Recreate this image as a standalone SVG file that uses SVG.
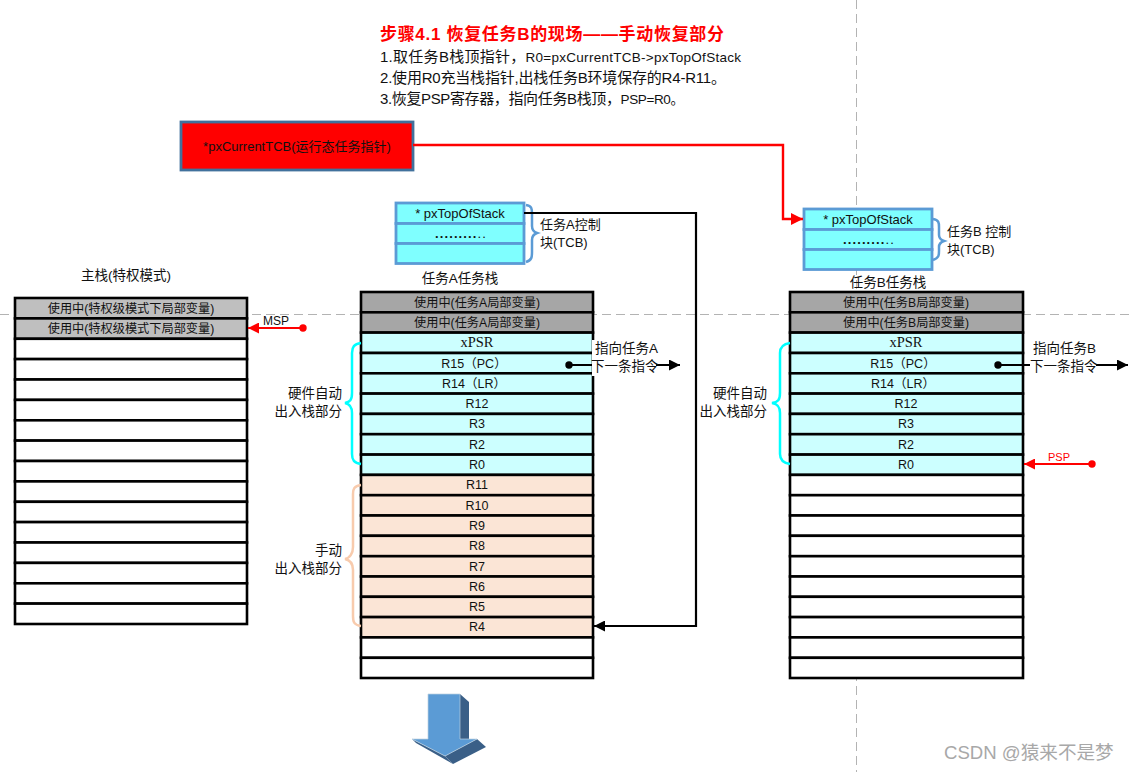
<svg xmlns="http://www.w3.org/2000/svg" width="1130" height="772" viewBox="0 0 1130 772">
<style>
text{font-family:"Liberation Sans","Noto Sans CJK SC",sans-serif;fill:#111;font-size:12px}
.m{text-anchor:middle}
.e{text-anchor:end}
.r{fill:#fff;stroke:#000;stroke-width:2.6}
.g{fill:#a6a6a6;stroke:#000;stroke-width:2.6}
.lg{fill:#bfbfbf;stroke:#000;stroke-width:2.6}
.c{fill:#ccffff;stroke:#000;stroke-width:2.6}
.o{fill:#fbe5d6;stroke:#000;stroke-width:2.6}
.t{fill:#7fffff;stroke:#5b9bd5;stroke-width:2.8}
.u{font-size:12.2px}
.s{font-size:12.5px}
.x{font-family:"Liberation Serif",serif;font-size:14.5px}
.info{font-size:15px}
.lat{font-size:13.5px}
.lab{font-size:13.5px}
.dots{font-weight:bold;font-size:13px;letter-spacing:1.1px}
.dash{stroke:#b3b3b3;stroke-width:1;stroke-dasharray:9 5;fill:none}
.brace{fill:none;stroke-width:2.5}
</style>
<defs>
<marker id="ar" markerWidth="5" markerHeight="5" refX="5" refY="2.5" orient="auto" markerUnits="strokeWidth"><path d="M0 0L5 2.5L0 5z" fill="#f00"/></marker>
<marker id="ak" markerWidth="5" markerHeight="5" refX="5" refY="2.5" orient="auto" markerUnits="strokeWidth"><path d="M0 0L5 2.5L0 5z" fill="#000"/></marker>
</defs>
<rect width="1130" height="772" fill="#fff"/>
<g id="guides">
<path class="dash" d="M0 314.5H1130"/>
<path class="dash" d="M856.5 0V772"/>
</g>
<g id="title">
<text x="380" y="40" textLength="344" style="font-size:17px;font-weight:bold;fill:#f00">步骤4.1 恢复任务B的现场——手动恢复部分</text>
<text class="info" x="380" y="62" textLength="361">1.取任务B栈顶指针，<tspan class="lat">R0=pxCurrentTCB-&gt;pxTopOfStack</tspan></text>
<text class="info" x="380" y="83" textLength="346">2.使用R0充当栈指针,出栈任务B环境保存的R4-R11。</text>
<text class="info" x="380" y="104" textLength="304">3.恢复PSP寄存器，指向任务B栈顶，<tspan class="lat">PSP=R0。</tspan></text>
</g>
<g id="pxCurrentTCB">
<rect x="181" y="122" width="232" height="48" fill="#f00" stroke="#41719c" stroke-width="2.8"/>
<text class="m" x="297" y="151" style="font-size:13px">*pxCurrentTCB(运行态任务指针)</text>
</g>
<g id="tcbA">
<rect class="t" x="396" y="203" width="128" height="20.5"/>
<rect class="t" x="396" y="223.5" width="128" height="20"/>
<rect class="t" x="396" y="243.5" width="128" height="20"/>
<text class="m" x="460" y="218" style="font-size:13px">* pxTopOfStack</text>
<text class="m dots" x="461" y="238">.........<tspan font-weight="normal">..</tspan></text>
<path class="brace" stroke="#5b9bd5" d="M526 205C532 206 532 209 532 214V226C532 230 534 232 537 233C534 234 532 236 532 240V252C532 257 532 260 526 262"/>
<text x="540" y="229" style="font-size:13px">任务A控制</text>
<text x="540" y="247" style="font-size:13px">块(TCB)</text>
<text class="m lab" x="460" y="283">任务A任务栈</text>
</g>
<g id="tcbB">
<rect class="t" x="804" y="209" width="128" height="20.5"/>
<rect class="t" x="804" y="229.5" width="128" height="20"/>
<rect class="t" x="804" y="249.5" width="128" height="20"/>
<text class="m" x="868" y="224" style="font-size:13px">* pxTopOfStack</text>
<text class="m dots" x="869" y="244">.........<tspan font-weight="normal">..</tspan></text>
<path class="brace" stroke="#5b9bd5" d="M933 219C939 220 939 223 939 227V235C939 238 941 240 944 241C941 242 939 244 939 247V251C939 255 939 258 933 260"/>
<text x="947" y="236" style="font-size:13px">任务B 控制</text>
<text x="947" y="254" style="font-size:13px">块(TCB)</text>
<text class="m lab" x="888" y="287">任务B任务栈</text>
</g>
<g id="mainStack">
<text class="m lab" x="126" y="280">主栈(特权模式)</text>
<rect class="lg" x="15" y="298" width="232" height="20.4"/>
<rect class="lg" x="15" y="318.4" width="232" height="20.4"/>
<rect class="r" x="15" y="338.8" width="232" height="20.3"/>
<rect class="r" x="15" y="359.1" width="232" height="20.4"/>
<rect class="r" x="15" y="379.5" width="232" height="20.4"/>
<rect class="r" x="15" y="399.9" width="232" height="20.4"/>
<rect class="r" x="15" y="420.3" width="232" height="20.3"/>
<rect class="r" x="15" y="440.6" width="232" height="20.4"/>
<rect class="r" x="15" y="461" width="232" height="20.4"/>
<rect class="r" x="15" y="481.4" width="232" height="20.4"/>
<rect class="r" x="15" y="501.8" width="232" height="20.3"/>
<rect class="r" x="15" y="522.1" width="232" height="20.4"/>
<rect class="r" x="15" y="542.5" width="232" height="20.4"/>
<rect class="r" x="15" y="562.9" width="232" height="20.4"/>
<rect class="r" x="15" y="583.3" width="232" height="20.3"/>
<rect class="r" x="15" y="603.6" width="232" height="20.4"/>
<text class="m u" x="131" y="312.5">使用中(特权级模式下局部变量)</text>
<text class="m u" x="131" y="333">使用中(特权级模式下局部变量)</text>
</g>
<g id="stackA">
<rect class="g" x="361" y="292" width="232" height="20.3"/>
<rect class="g" x="361" y="312.3" width="232" height="20.3"/>
<rect class="c" x="361" y="332.6" width="232" height="20.4"/>
<rect class="c" x="361" y="353" width="232" height="20.3"/>
<rect class="c" x="361" y="373.3" width="232" height="20.3"/>
<rect class="c" x="361" y="393.6" width="232" height="20.3"/>
<rect class="c" x="361" y="413.9" width="232" height="20.3"/>
<rect class="c" x="361" y="434.2" width="232" height="20.4"/>
<rect class="c" x="361" y="454.6" width="232" height="20.3"/>
<rect class="o" x="361" y="474.9" width="232" height="20.3"/>
<rect class="o" x="361" y="495.2" width="232" height="20.3"/>
<rect class="o" x="361" y="515.5" width="232" height="20.3"/>
<rect class="o" x="361" y="535.8" width="232" height="20.4"/>
<rect class="o" x="361" y="556.2" width="232" height="20.3"/>
<rect class="o" x="361" y="576.5" width="232" height="20.3"/>
<rect class="o" x="361" y="596.8" width="232" height="20.3"/>
<rect class="o" x="361" y="617.1" width="232" height="20.3"/>
<rect class="r" x="361" y="637.4" width="232" height="20.4"/>
<rect class="r" x="361" y="657.8" width="232" height="20.2"/>
<text class="m u" x="477" y="307">使用中(任务A局部变量)</text>
<text class="m u" x="477" y="327">使用中(任务A局部变量)</text>
<text class="m x" x="477" y="347">xPSR</text>
<text class="m s" x="474" y="368">R15（PC）</text>
<text class="m s" x="474" y="388">R14（LR）</text>
<text class="m s" x="477" y="408">R12</text>
<text class="m s" x="477" y="428">R3</text>
<text class="m s" x="477" y="449">R2</text>
<text class="m s" x="477" y="469">R0</text>
<text class="m s" x="477" y="489">R11</text>
<text class="m s" x="477" y="510">R10</text>
<text class="m s" x="477" y="530">R9</text>
<text class="m s" x="477" y="550">R8</text>
<text class="m s" x="477" y="571">R7</text>
<text class="m s" x="477" y="591">R6</text>
<text class="m s" x="477" y="611">R5</text>
<text class="m s" x="477" y="631">R4</text>
</g>
<g id="stackB">
<rect class="g" x="790" y="292" width="233" height="20.3"/>
<rect class="g" x="790" y="312.3" width="233" height="20.3"/>
<rect class="c" x="790" y="332.6" width="233" height="20.4"/>
<rect class="c" x="790" y="353" width="233" height="20.3"/>
<rect class="c" x="790" y="373.3" width="233" height="20.3"/>
<rect class="c" x="790" y="393.6" width="233" height="20.3"/>
<rect class="c" x="790" y="413.9" width="233" height="20.3"/>
<rect class="c" x="790" y="434.2" width="233" height="20.4"/>
<rect class="c" x="790" y="454.6" width="233" height="20.3"/>
<rect class="r" x="790" y="474.9" width="233" height="20.3"/>
<rect class="r" x="790" y="495.2" width="233" height="20.3"/>
<rect class="r" x="790" y="515.5" width="233" height="20.3"/>
<rect class="r" x="790" y="535.8" width="233" height="20.4"/>
<rect class="r" x="790" y="556.2" width="233" height="20.3"/>
<rect class="r" x="790" y="576.5" width="233" height="20.3"/>
<rect class="r" x="790" y="596.8" width="233" height="20.3"/>
<rect class="r" x="790" y="617.1" width="233" height="20.3"/>
<rect class="r" x="790" y="637.4" width="233" height="20.4"/>
<rect class="r" x="790" y="657.8" width="233" height="20.2"/>
<text class="m u" x="906" y="307">使用中(任务B局部变量)</text>
<text class="m u" x="906" y="327">使用中(任务B局部变量)</text>
<text class="m x" x="906" y="347">xPSR</text>
<text class="m s" x="903" y="368">R15（PC）</text>
<text class="m s" x="903" y="388">R14（LR）</text>
<text class="m s" x="906" y="408">R12</text>
<text class="m s" x="906" y="428">R3</text>
<text class="m s" x="906" y="449">R2</text>
<text class="m s" x="906" y="469">R0</text>
</g>
<g id="braces">
<path class="brace" stroke="#00ffff" d="M361 343C354 344 352 347 352 353V393C352 400 350 402 345 403C350 404 352 407 352 413V454C352 460 354 463 361 464"/>
<path class="brace" stroke="#f8cbad" d="M361 485C354 486 353 489 353 494V547C353 553 350 558 345 559C350 560 353 563 353 570V616C353 622 354 625 361 626"/>
<path class="brace" stroke="#00ffff" d="M790 343C783 344 780 347 780 353V393C780 400 778 402 772 403C778 404 780 407 780 413V454C780 460 783 463 790 464"/>
</g>
<g id="labels">
<text class="e lab" x="342" y="398">硬件自动</text>
<text class="e lab" x="342" y="416">出入栈部分</text>
<text class="e lab" x="342" y="555">手动</text>
<text class="e lab" x="342" y="573">出入栈部分</text>
<text class="e lab" x="767" y="398">硬件自动</text>
<text class="e lab" x="767" y="416">出入栈部分</text>
</g>
<g id="connectors" fill="none">
<path d="M413 145H783V219H803" stroke="#f00" stroke-width="2.4" marker-end="url(#ar)"/>
<path d="M524 213H696V626H594" stroke="#000" stroke-width="2.2" marker-end="url(#ak)"/>
<path d="M303 328H248" stroke="#f00" stroke-width="2.2" marker-end="url(#ar)"/>
<circle cx="303" cy="328" r="3.7" fill="#f00"/>
<path d="M1092 464H1024" stroke="#f00" stroke-width="2.2" marker-end="url(#ar)"/>
<circle cx="1092" cy="464" r="3.7" fill="#f00"/>
<path d="M569 365H680" stroke="#000" stroke-width="2.2" marker-end="url(#ak)"/>
<circle cx="569" cy="365" r="3.7" fill="#000"/>
<path d="M998 365H1128" stroke="#000" stroke-width="2.2" marker-end="url(#ak)"/>
<circle cx="998" cy="365" r="3.7" fill="#000"/>
</g>
<g id="pointerLabels">
<rect x="592" y="340" width="64" height="36" fill="#fff"/>
<rect x="1030" y="340" width="66" height="36" fill="#fff"/>
<text class="lab" x="595" y="353">指向任务A</text>
<text class="lab" x="591" y="371">下一条指令</text>
<text class="lab" x="1033" y="353">指向任务B</text>
<text class="lab" x="1030" y="371">下一条指令</text>
<text x="263" y="325" style="font-size:12px">MSP</text>
<text x="1048" y="461" style="font-size:11px;fill:#f00">PSP</text>
</g>
<g id="downArrow">
<path d="M460 694L469 702V739H460z" fill="#3a5f87"/>
<path d="M445 756L477 739L486 747L453 764z" fill="#3a5f87"/>
<path d="M412 739L445 756L453 764L416 743z" fill="#3a5f87"/>
<path d="M428 694H460V739H477L445 756L412 739H428z" fill="#5b9bd5" stroke="#bcd0e0" stroke-width="0.7"/>
</g>
<g id="watermark">
<text x="944" y="759" style="font-size:18.6px;fill:#a8a8a8">CSDN @猿来不是梦</text>
</g>
</svg>
